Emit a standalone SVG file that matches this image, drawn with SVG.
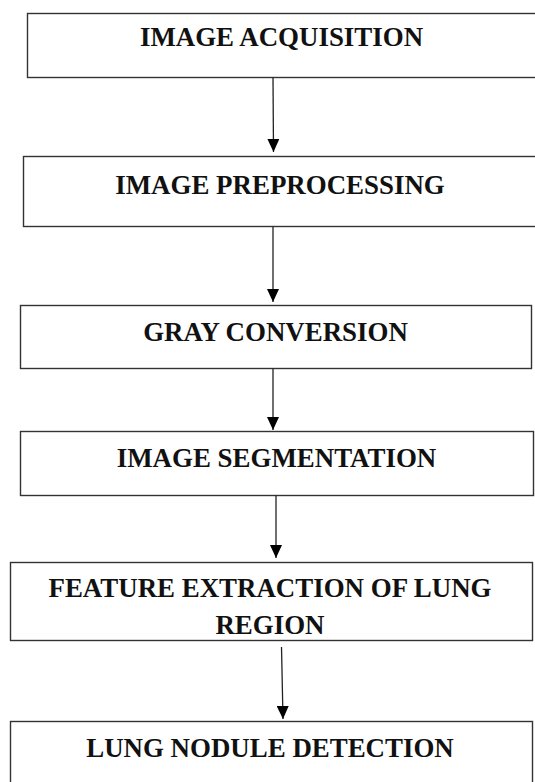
<svg xmlns="http://www.w3.org/2000/svg" width="535" height="782" viewBox="0 0 535 782">
<defs>
<style>
.box{fill:#fff;stroke:#333;stroke-width:1.4}
.lbl{font-family:"Liberation Serif","Times New Roman",serif;font-weight:bold;font-size:26.9px;fill:#111;text-anchor:middle}
.conn{stroke:#222;stroke-width:1.3;fill:none}
</style>
<marker id="ah" viewBox="0 0 13 12" refX="13" refY="6" markerWidth="13" markerHeight="12" markerUnits="userSpaceOnUse" orient="auto">
<path d="M0,0 L13,6 L0,12 Z" fill="#000"/>
</marker>
</defs>
<rect width="535" height="782" fill="#fff"/>
<g id="n1"><rect class="box" x="27.5" y="13.5" width="509" height="64"/><text class="lbl" x="281.5" y="46">IMAGE ACQUISITION</text></g>
<g id="n2"><rect class="box" x="23.5" y="156.5" width="514" height="70"/><text class="lbl" x="280" y="194">IMAGE PREPROCESSING</text></g>
<g id="n3"><rect class="box" x="20.5" y="305.5" width="511" height="63"/><text class="lbl" x="275.5" y="341">GRAY CONVERSION</text></g>
<g id="n4"><rect class="box" x="20.5" y="431.5" width="513" height="64"/><text class="lbl" x="276.5" y="467">IMAGE SEGMENTATION</text></g>
<g id="n5"><rect class="box" x="10.5" y="562.5" width="522" height="78"/><text class="lbl" x="270" y="597">FEATURE EXTRACTION OF LUNG</text><text class="lbl" x="270" y="634">REGION</text></g>
<g id="n6"><rect class="box" x="10.5" y="721.5" width="522" height="80"/><text class="lbl" x="270" y="757">LUNG NODULE DETECTION</text></g>
<g id="connectors">
<path class="conn" d="M273,77.5 L273.5,152" marker-end="url(#ah)"/>
<path class="conn" d="M273,226.5 L273,302" marker-end="url(#ah)"/>
<path class="conn" d="M273,368.5 L273,430" marker-end="url(#ah)"/>
<path class="conn" d="M276,495.5 L276,558" marker-end="url(#ah)"/>
<path class="conn" d="M281.5,647 L283,719" marker-end="url(#ah)"/>
</g>
</svg>
